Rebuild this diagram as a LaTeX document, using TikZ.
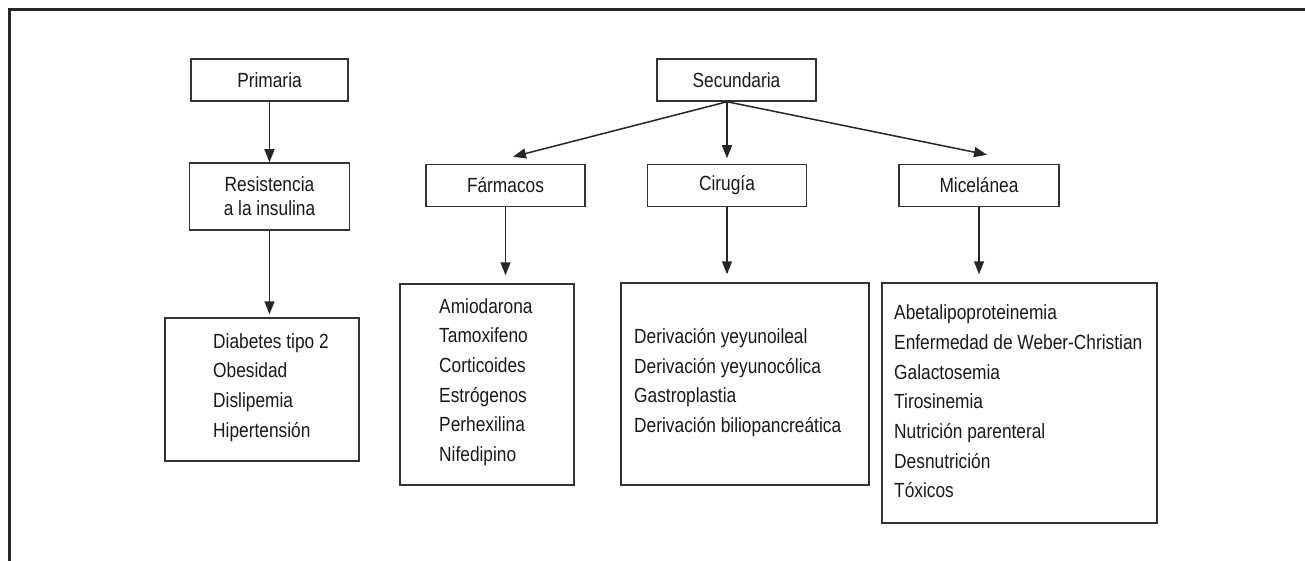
\documentclass[tikz,border=0pt]{standalone}
\usepackage{fontspec}
\setmainfont{Liberation Sans}[FakeStretch=0.845]
\usetikzlibrary{arrows.meta,calc}
\begin{document}
\begin{tikzpicture}[x=1pt,y=-1pt,
  box/.style={draw=black!80, line width=1.5pt, inner sep=0pt, align=center,
    font=\fontsize{20.5}{24}\selectfont, text=black!90},
  arr/.style={draw=black!85, line width=1.5pt, -{Triangle[length=13pt,width=10pt]}},
  lst/.style={font=\fontsize{20.5}{29.7}\selectfont, align=left, inner sep=0pt, anchor=west, text=black!90},
]
\useasboundingbox (0,0) rectangle (1305,561);
\draw[line width=2.8pt, black!85] (1305,9.5) -- (9.5,9.5) -- (9.5,561);

% left column
\node[box, minimum width=157pt, minimum height=42pt] (prim) at (269.5,80) {Primaria};
\node[box, minimum width=160pt, minimum height=67pt] (res) at (269.5,196.5) {Resistencia\\a la insulina};
\node[box, minimum width=194pt, minimum height=143pt] (dl) at (262,389.5) {};
\node[lst] (dt) at (213,387.5) {Diabetes tipo 2\\Obesidad\\Dislipemia\\Hipertensión};

% secondary
\node[box, minimum width=159pt, minimum height=42pt] (sec) at (736.5,80) {Secundaria};
\node[box, minimum width=159pt, minimum height=42pt] (far) at (505.5,185.5) {Fármacos};
\node[box, minimum width=159pt, minimum height=42pt] (cir) at (727,185.5) {Cirugía};
\node[box, minimum width=160pt, minimum height=42pt] (mic) at (979,185.5) {Micelánea};

\node[box, minimum width=174pt, minimum height=201pt] (farl) at (487,384.5) {};
\node[lst] (fart) at (439,382) {Amiodarona\\Tamoxifeno\\Corticoides\\Estrógenos\\Perhexilina\\Nifedipino};
\node[box, minimum width=248pt, minimum height=202pt] (cirl) at (745,384) {};
\node[lst] (cirt) at (634,382.5) {Derivación yeyunoileal\\Derivación yeyunocólica\\Gastroplastia\\Derivación biliopancreática};
\node[box, minimum width=275pt, minimum height=240pt] (micl) at (1019.5,403) {};
\node[lst] (mict) at (894,401.5) {Abetalipoproteinemia\\Enfermedad de Weber-Christian\\Galactosemia\\Tirosinemia\\Nutrición parenteral\\Desnutrición\\Tóxicos};

% connectors
\draw[arr] (prim.south) -- (res.north);
\draw[arr, shorten >=3pt] (res.south) -- (res.south |- dl.north);

\coordinate (s0) at ($(sec.south)+(-9.5,0)$);
\draw[arr] (s0) -- ($(far.north)+(7.5,-7)$);
\draw[arr] (s0) -- ($(s0 |- cir.north)+(0,-5.5)$);
\draw[arr] (s0) -- ($(mic.north)+(8,-9)$);

\draw[arr, shorten >=8pt] (far.south) -- (far.south |- farl.north);
\draw[arr, shorten >=8pt] (cir.south) -- (cir.south |- cirl.north);
\draw[arr, shorten >=8pt] (mic.south) -- (mic.south |- micl.north);
\end{tikzpicture}
\end{document}
